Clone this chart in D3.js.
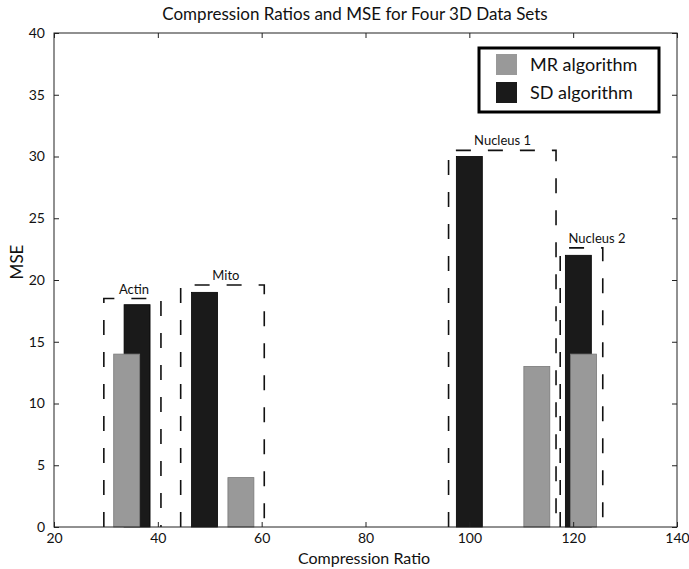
<!DOCTYPE html>
<meta charset="utf-8">
<style>
html, body {
  margin: 0;
  background: #fff;
}
text {
  font-family: Lato, "Open Sans", sans-serif;
  fill: #111;
}
.frame {
  fill: none;
  stroke: #222;
  stroke-width: 1px;
}
.group-box {
  fill: none;
  stroke: #111;
  stroke-width: 1.6px;
  stroke-dasharray: 15,17;
}
</style>
<svg></svg>
<script src="https://d3js.org/d3.v7.min.js"></script>
<script>

// MR algorithm (gray) and SD algorithm (black) bars
var mrX = [34, 56, 113, 122];
var mrY = [14, 4, 13, 14];
var sdX = [36, 49, 100, 121];
var sdY = [18, 19, 30, 22];
var barWidth = 5;

// dashed boxes around each data set
var setNames = ['Actin', 'Mito', 'Nucleus 1', 'Nucleus 2'];
var boxLeft = [29.6, 44.4, 96, 117.5];
var boxRight = [40.6, 60.5, 116.7, 125.7];
var boxTop = [18.5, 19.6, 30.5, 22.6];
var labelX = [35.4, 53.1, 106.4, 124.6];

var xTicks = [20, 40, 60, 80, 100, 120, 140];
var yTicks = [0, 5, 10, 15, 20, 25, 30, 35, 40];
var legendNames = ['MR algorithm', 'SD algorithm'];
var colors = ['#999999', '#1a1a1a'];

var margin = {left: 54, top: 33, right: 12, bottom: 42};
var width = 689 - margin.left - margin.right;
var height = 569 - margin.top - margin.bottom;

var svg = d3.select('svg')
  .attr('width', 689)
  .attr('height', 569);

var g = svg.append('g')
  .attr('transform', 'translate(' + margin.left + ',' + margin.top + ')');

var x = d3.scaleLinear().domain([20, 140]).range([0, width]);
var y = d3.scaleLinear().domain([0, 40]).range([height, 0]);

// bars: black first, gray drawn on top
g.append('g').selectAll('rect').data(d3.range(sdX.length))
  .enter().append('rect')
  .attr('x', function (i) { return x(sdX[i] - barWidth / 2); })
  .attr('width', function (i) { return x(sdX[i] + barWidth / 2) - x(sdX[i] - barWidth / 2); })
  .attr('y', function (i) { return y(sdY[i]); })
  .attr('height', function (i) { return y(0) - y(sdY[i]); })
  .attr('fill', colors[1])
  .attr('stroke', '#000')
  .attr('stroke-width', 0.8);

g.append('g').selectAll('rect').data(d3.range(mrX.length))
  .enter().append('rect')
  .attr('x', function (i) { return x(mrX[i] - barWidth / 2); })
  .attr('width', function (i) { return x(mrX[i] + barWidth / 2) - x(mrX[i] - barWidth / 2); })
  .attr('y', function (i) { return y(mrY[i]); })
  .attr('height', function (i) { return y(0) - y(mrY[i]); })
  .attr('fill', colors[0])
  .attr('stroke', '#7a7a7a')
  .attr('stroke-width', 0.8);

// dashed group boxes (open at the bottom)
g.append('g').selectAll('path').data(d3.range(setNames.length))
  .enter().append('path')
  .attr('class', 'group-box')
  .attr('d', function (i) {
    return d3.line()([
      [x(boxLeft[i]), y(0)],
      [x(boxLeft[i]), y(boxTop[i])],
      [x(boxRight[i]), y(boxTop[i])],
      [x(boxRight[i]), y(0)]
    ]);
  });

g.append('g').selectAll('text').data(d3.range(setNames.length))
  .enter().append('text')
  .attr('x', function (i) { return x(labelX[i]); })
  .attr('y', function (i) { return y(boxTop[i]) - 5; })
  .attr('text-anchor', 'middle')
  .style('font-size', '13px')
  .text(function (i) { return setNames[i]; });

// axes with inward ticks, matlab style box
g.append('rect')
  .attr('class', 'frame')
  .attr('width', width)
  .attr('height', height);

g.append('g')
  .attr('transform', 'translate(0,' + height + ')')
  .call(d3.axisBottom(x).tickValues(xTicks).tickSize(-5).tickPadding(6));
g.append('g')
  .call(d3.axisLeft(y).tickValues(yTicks).tickSize(-5).tickPadding(9));
g.append('g')
  .call(d3.axisTop(x).tickValues(xTicks).tickSize(-5).tickFormat(''));
g.append('g')
  .attr('transform', 'translate(' + width + ',0)')
  .call(d3.axisRight(y).tickValues(yTicks).tickSize(-5).tickFormat(''));

g.selectAll('.domain').remove();
g.selectAll('.tick line').attr('stroke', '#222');
g.selectAll('.tick text').style('font-size', '14px').attr('fill', '#111');

// titles
svg.append('text')
  .attr('x', 355)
  .attr('y', 20)
  .attr('text-anchor', 'middle')
  .style('font-size', '17px')
  .text('Compression Ratios and MSE for Four 3D Data Sets');

svg.append('text')
  .attr('x', 364)
  .attr('y', 564)
  .attr('text-anchor', 'middle')
  .style('font-size', '16px')
  .text('Compression Ratio');

svg.append('text')
  .attr('transform', 'translate(23,262) rotate(-90)')
  .attr('text-anchor', 'middle')
  .style('font-size', '17px')
  .text('MSE');

// legend
var legend = g.append('g')
  .attr('transform', 'translate(' + (479 - margin.left) + ',' + (48 - margin.top) + ')');
legend.append('rect')
  .attr('width', 180)
  .attr('height', 64)
  .attr('fill', '#fff')
  .attr('stroke', '#000')
  .attr('stroke-width', 3);
legend.selectAll('.swatch').data(legendNames)
  .enter().append('rect')
  .attr('x', 17)
  .attr('y', function (d, i) { return 6 + i * 28; })
  .attr('width', 21)
  .attr('height', 21)
  .attr('fill', function (d, i) { return colors[i]; });
legend.selectAll('.label').data(legendNames)
  .enter().append('text')
  .attr('x', 51)
  .attr('y', function (d, i) { return 23 + i * 28; })
  .style('font-size', '18px')
  .text(function (d) { return d; });

</script>
